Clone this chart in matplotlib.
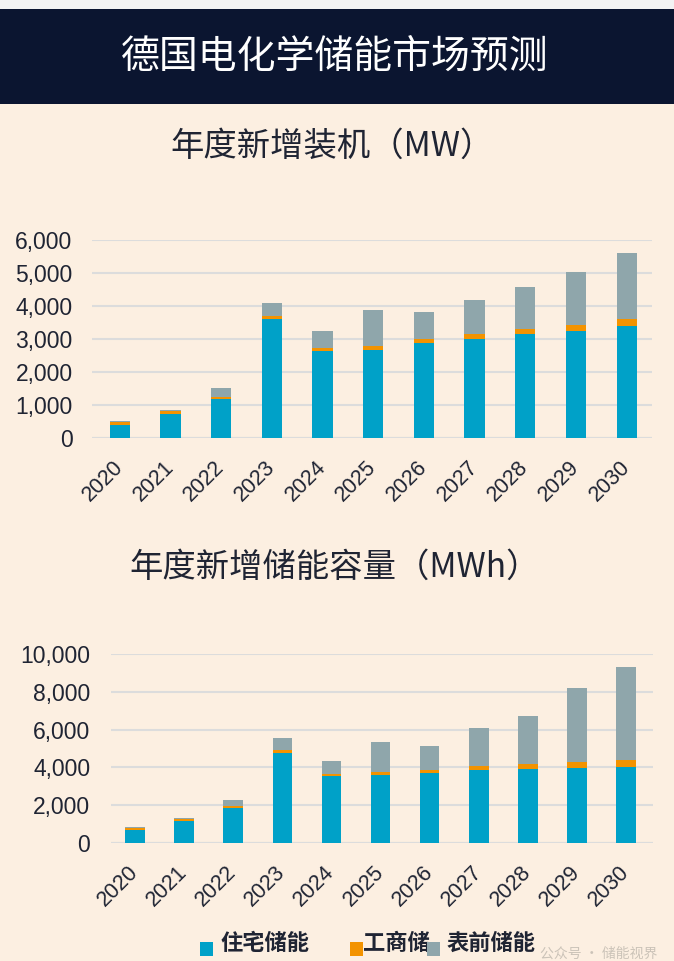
import matplotlib.pyplot as plt
from matplotlib.patches import Rectangle

plt.rcParams['font.family'] = ['Noto Sans CJK SC', 'DejaVu Sans']

# data
years = ['2020', '2021', '2022', '2023', '2024', '2025', '2026', '2027', '2028', '2029', '2030']
series = ['住宅储能', '工商储', '表前储能']

# annual new installed power (MW)
mw_res = [400, 735, 1170, 3600, 2630, 2680, 2870, 3010, 3155, 3245, 3400]
mw_ci = [80, 80, 70, 90, 110, 110, 120, 155, 160, 170, 200]
mw_ftm = [45, 40, 290, 390, 495, 1100, 830, 1015, 1260, 1625, 2005]

# annual new storage capacity (MWh)
mwh_res = [670, 1185, 1855, 4750, 3535, 3585, 3690, 3850, 3920, 3960, 4010]
mwh_ci = [125, 70, 125, 160, 140, 160, 195, 215, 250, 300, 370]
mwh_ftm = [55, 70, 280, 640, 655, 1625, 1255, 2030, 2545, 3920, 4910]

c_res = '#00a1c8'
c_ci = '#f39300'
c_ftm = '#8fa6ab'
bg = '#fcefe1'
navy = '#0b1530'
txt = '#1f2433'
grid = '#dcdcdc'
num_font = 'Liberation Sans'

fig = plt.figure(figsize=(6.74, 9.61), dpi=100)
fig.patch.set_facecolor(bg)

# header band
fig.patches.append(Rectangle((0, 1 - 9 / 961), 1, 9 / 961, transform=fig.transFigure,
                             facecolor='#f3f3f3', edgecolor='none', zorder=0))
fig.patches.append(Rectangle((0, 1 - 104 / 961), 1, 95 / 961, transform=fig.transFigure,
                             facecolor=navy, edgecolor='none', zorder=0))
fig.text(0.497, 1 - 57 / 961, '德国电化学储能市场预测', color='white', fontsize=28,
         ha='center', va='center')

fig.text(0.493, 1 - 146 / 961, '年度新增装机（MW）', color=txt, fontsize=24,
         ha='center', va='center')
fig.text(0.496, 1 - 567 / 961, '年度新增储能容量（MWh）', color=txt, fontsize=24,
         ha='center', va='center')


def draw(ax, res, ci, ftm, top, step, xlim, ypad):
    x = range(len(years))
    ax.bar(x, res, width=0.4, color=c_res, zorder=3)
    ax.bar(x, ci, width=0.4, bottom=res, color=c_ci, zorder=3)
    b3 = [r + c for r, c in zip(res, ci)]
    ax.bar(x, ftm, width=0.4, bottom=b3, color=c_ftm, zorder=3)
    ax.set_facecolor('none')
    ax.set_ylim(0, top)
    ax.set_xlim(*xlim)
    ax.set_yticks(range(0, top + 1, step))
    ax.set_yticklabels(['{:,}'.format(v) for v in range(0, top + 1, step)],
                       fontfamily=num_font)
    ax.set_xticks(list(x))
    ax.set_xticklabels(years, rotation=45, ha='right', va='center',
                       rotation_mode='anchor', fontfamily=num_font)
    ax.grid(axis='y', color=grid, linewidth=1.5, zorder=0)
    for s in ax.spines.values():
        s.set_visible(False)
    ax.tick_params(axis='y', length=0, pad=ypad, labelsize=16.5, labelcolor=txt)
    ax.tick_params(axis='x', length=0, pad=19, labelsize=15.5, labelcolor=txt)
    ax.axhline(0, color=grid, linewidth=1.5, zorder=1)


ax1 = fig.add_axes([92 / 674, 1 - 438 / 961, 560 / 674, 198 / 961])
draw(ax1, mw_res, mw_ci, mw_ftm, 6000, 1000, (-0.55, 10.5), 14)

ax2 = fig.add_axes([111 / 674, 1 - 843 / 961, 542 / 674, 189 / 961])
draw(ax2, mwh_res, mwh_ci, mwh_ftm, 10000, 2000, (-0.49, 10.55), 15)

# legend
colors = [c_res, c_ci, c_ftm]
sq_x = [200, 350, 427]
tx_x = [221, 363, 447]
for lab, col, sx, tx in zip(series, colors, sq_x, tx_x):
    fig.patches.append(Rectangle((sx / 674, 1 - 956 / 961), 13 / 674, 14 / 961,
                                 transform=fig.transFigure, facecolor=col,
                                 edgecolor='none', zorder=5))
    fig.text(tx / 674, 1 - 943 / 961, lab, color=txt, fontsize=16,
             fontweight='bold', ha='left', va='center', zorder=4)

# watermark
fig.text(540 / 674, 1 - 954 / 961, '公众号 · 储能视界', color='#cbc3b8', fontsize=10,
         ha='left', va='center')

fig.savefig('out.png', dpi=100, facecolor=bg)
